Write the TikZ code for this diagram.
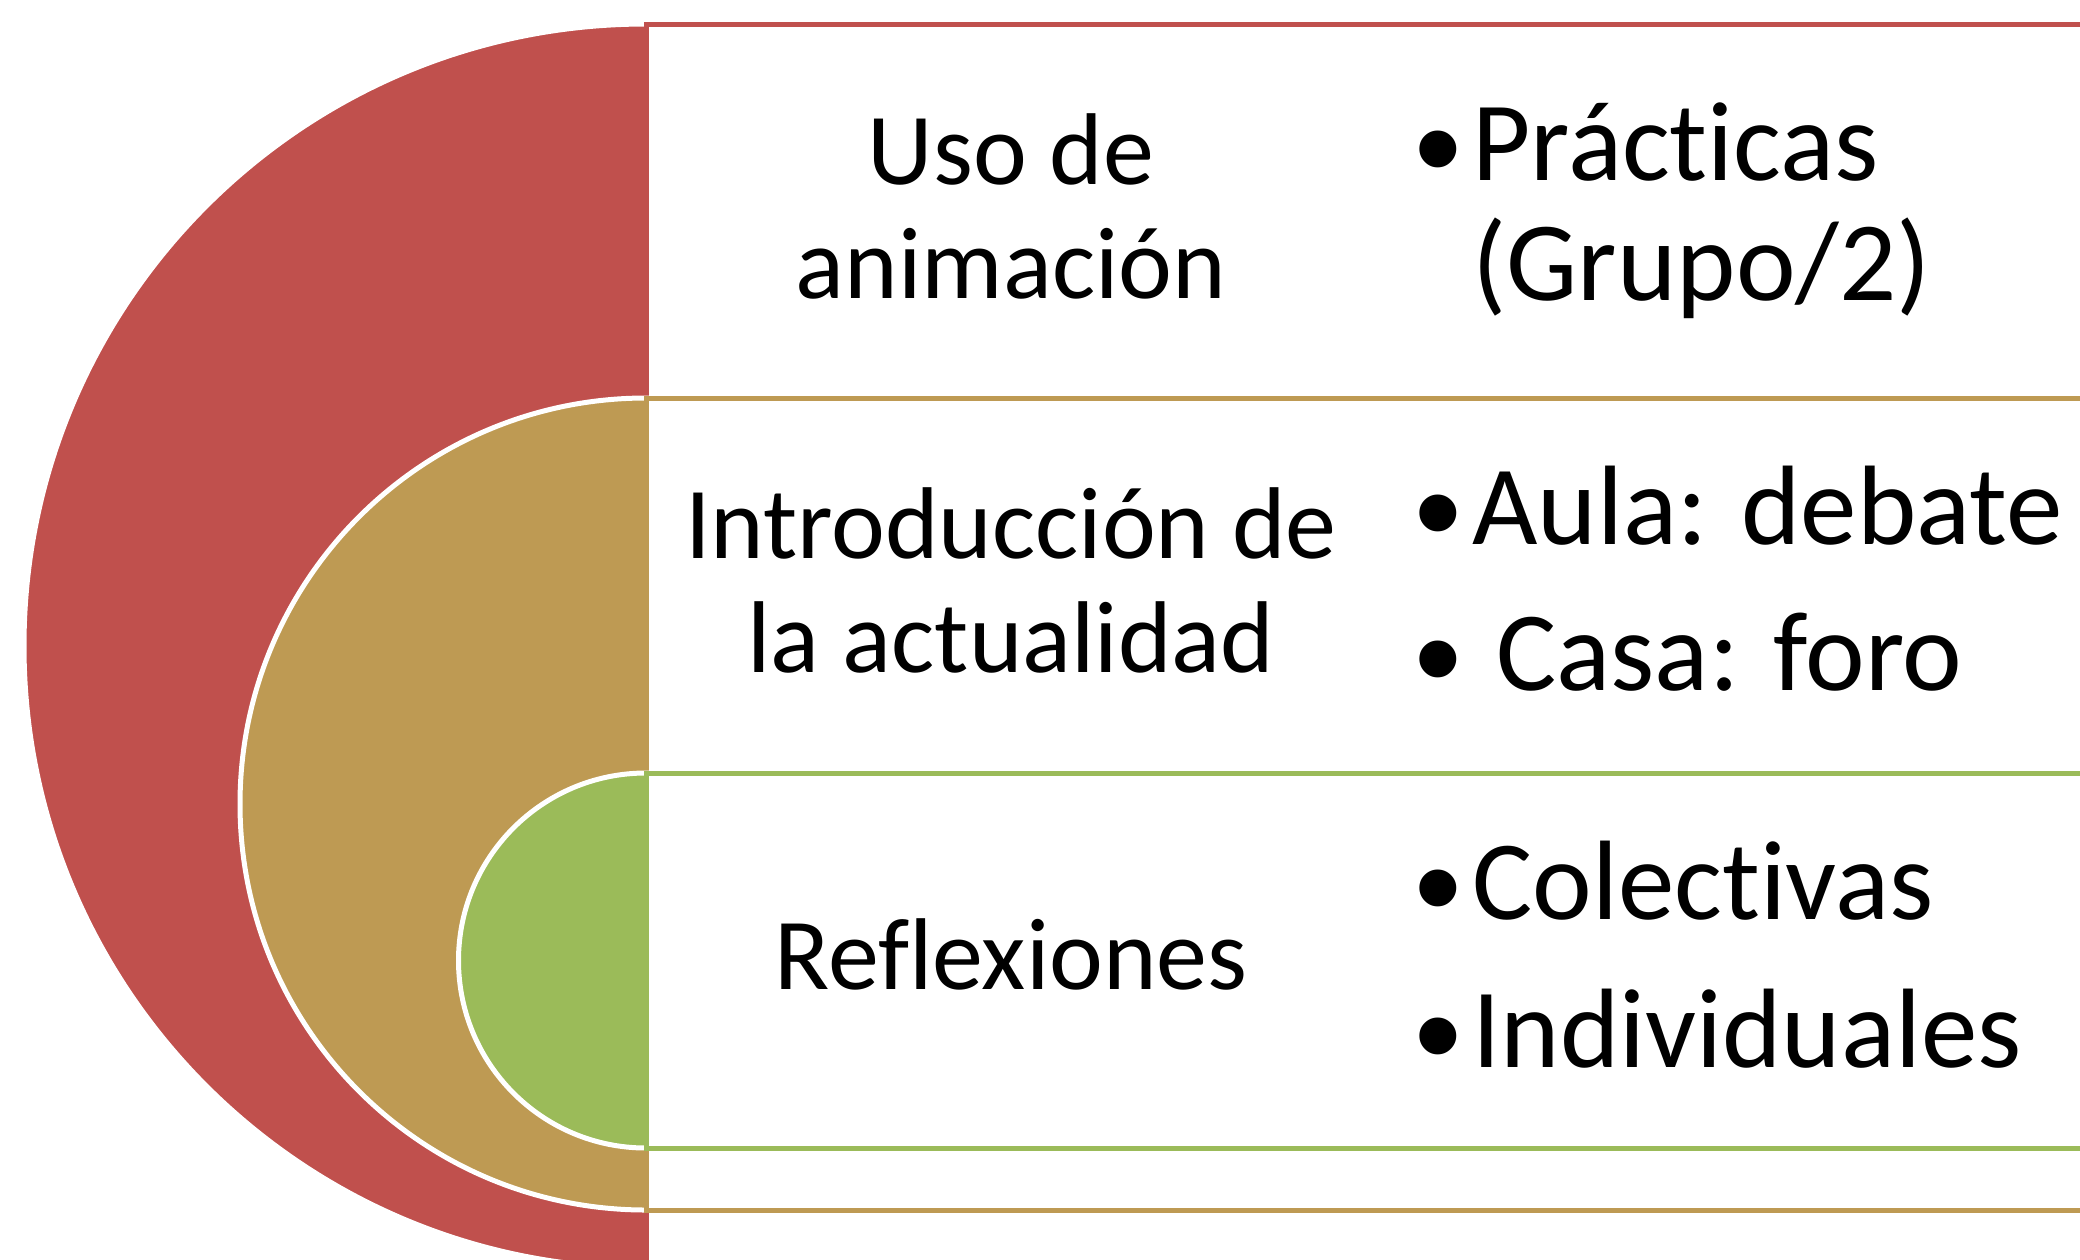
\documentclass[tikz,border=0pt]{standalone}
\usepackage{fontspec}
\setmainfont{Carlito}[Ligatures={NoCommon},RawFeature={-liga;-dlig;-clig}]
\newfontfamily\bulletfont{Liberation Sans}
\definecolor{cred}{HTML}{C0504D}
\definecolor{cgold}{HTML}{BE9A53}
\definecolor{cgreen}{HTML}{9BBB59}
\begin{document}
\begin{tikzpicture}[x=0.5pt,y=-0.5pt,
  disc/.style={draw=white,line width=2.5pt},
  band/.style={fill=white,line width=2.5pt},
  lefttext/.style={anchor=base,inner sep=0pt,font=\fontsize{51}{57}\selectfont},
  righttext/.style={anchor=base west,inner sep=0pt,font=\fontsize{56.5}{62}\selectfont},
  bul/.style={anchor=base,inner sep=0pt,font=\bulletfont\fontsize{68}{72}\selectfont}]
\useasboundingbox (0,0) rectangle (2080,1259);
\clip (0,0) rectangle (2080,1259);
% red level
\filldraw[disc,fill=cred] (646,646) circle[radius=311pt];
\draw[band,draw=cred] (646,24) rectangle (2200,1400);
% gold level
\filldraw[disc,fill=cgold] (646,804) circle[radius=203pt];
\draw[band,draw=cgold] (646,398) rectangle (2200,1210);
% green level
\filldraw[disc,fill=cgreen] (646,960.5) circle[radius=93.75pt];
\draw[band,draw=cgreen] (646,773) rectangle (2200,1148);
% left texts
\node[lefttext] (t1a) at (1011,184) {Uso de};
\node[lefttext] (t1b) at (1011,298) {animación};
\node[lefttext] (t2a) at (1011,558) {Introducción de};
\node[lefttext] (t2b) at (1011,672) {la actualidad};
\node[lefttext] (t3) at (1011,989) {Reflexiones};
% right texts
\node[bul] (b1) at (1438,194) {•};
\node[righttext] (r1a) at (1472,180) {Prácticas};
\node[righttext] (r1b) at (1472,300) {(Grupo/2)};
\node[bul] (b2) at (1438,558) {•};
\node[righttext] (r2) at (1472,544) {Aula: debate};
\node[bul] (b3) at (1438,704) {•};
\node[righttext] (r3) at (1496,690) {Casa: foro};
\node[bul] (b4) at (1438,933) {•};
\node[righttext] (r4) at (1472,919) {Colectivas};
\node[bul] (b5) at (1438,1081) {•};
\node[righttext] (r5) at (1472,1067) {Individuales};
\end{tikzpicture}
\end{document}
